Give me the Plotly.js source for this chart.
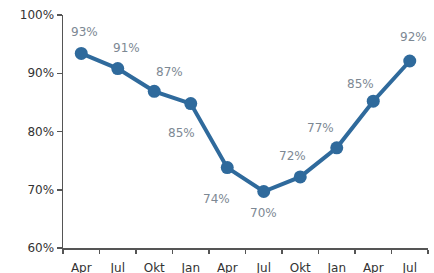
<!DOCTYPE html>
<html><head><meta charset="utf-8">
<script src="https://cdn.plot.ly/plotly-3.0.1.min.js"></script>
<style>html,body{margin:0;padding:0;background:#fff;}#c{width:434px;height:273px;}</style>
</head><body><div id="c"></div>
<script>
const categories = ["Apr ", "Jul ", "Okt ", "Jan ", "Apr", "Jul", "Okt", "Jan", "Apr  ", "Jul  "];
const tickLabels = ["Apr", "Jul", "Okt", "Jan", "Apr", "Jul", "Okt", "Jan", "Apr", "Jul"];
const values = [93.4, 90.8, 86.9, 84.8, 73.8, 69.7, 72.2, 77.2, 85.2, 92.1];
const labels = ["93%", "91%", "87%", "85%", "74%", "70%", "72%", "77%", "85%", "92%"];
const labelDx = [3, 9, 15, -9, -11, 0, -8, -16, -13, 4];
const labelDy = [21, 21, 19, -29, -31, -21, 21, 20, 17, 24];

const annotations = categories.map((c, i) => ({
  x: c, y: values[i], xref: 'x', yref: 'y', text: labels[i], showarrow: false,
  xshift: labelDx[i], yshift: labelDy[i],
  font: {family: 'DejaVu Sans', size: 12, color: '#7d8893'}
}));

Plotly.newPlot('c', [{
  x: categories, y: values, type: 'scatter', mode: 'lines+markers',
  line: {color: '#2f6a9c', width: 4},
  marker: {color: '#2f6a9c', size: 13},
  hoverinfo: 'none'
}], {
  width: 434, height: 273,
  margin: {l: 63, r: 6, t: 15, b: 25},
  paper_bgcolor: '#fff', plot_bgcolor: '#fff',
  showlegend: false,
  xaxis: {
    type: 'category', range: [-0.5, 9.5], tickmode: 'array', tickvals: categories, ticktext: tickLabels,
    tickson: 'boundaries', ticks: 'outside', ticklen: 4, tickcolor: '#555', tickwidth: 1.5,
    ticklabelstandoff: 8,
    showline: true, linecolor: '#555', linewidth: 1.5, showgrid: false, zeroline: false,
    tickfont: {family: 'DejaVu Sans', size: 12, color: '#333'}
  },
  yaxis: {
    range: [60, 100], tickvals: [60, 70, 80, 90, 100], ticktext: ['60%', '70%', '80%', '90%', '100%'],
    ticks: 'outside', ticklen: 5, tickcolor: '#555', tickwidth: 1.5,
    showline: true, linecolor: '#555', linewidth: 1.5, showgrid: false, zeroline: false,
    tickfont: {family: 'DejaVu Sans', size: 12, color: '#333'}
  },
  annotations: annotations
}, {staticPlot: true, displayModeBar: false});
</script></body></html>
